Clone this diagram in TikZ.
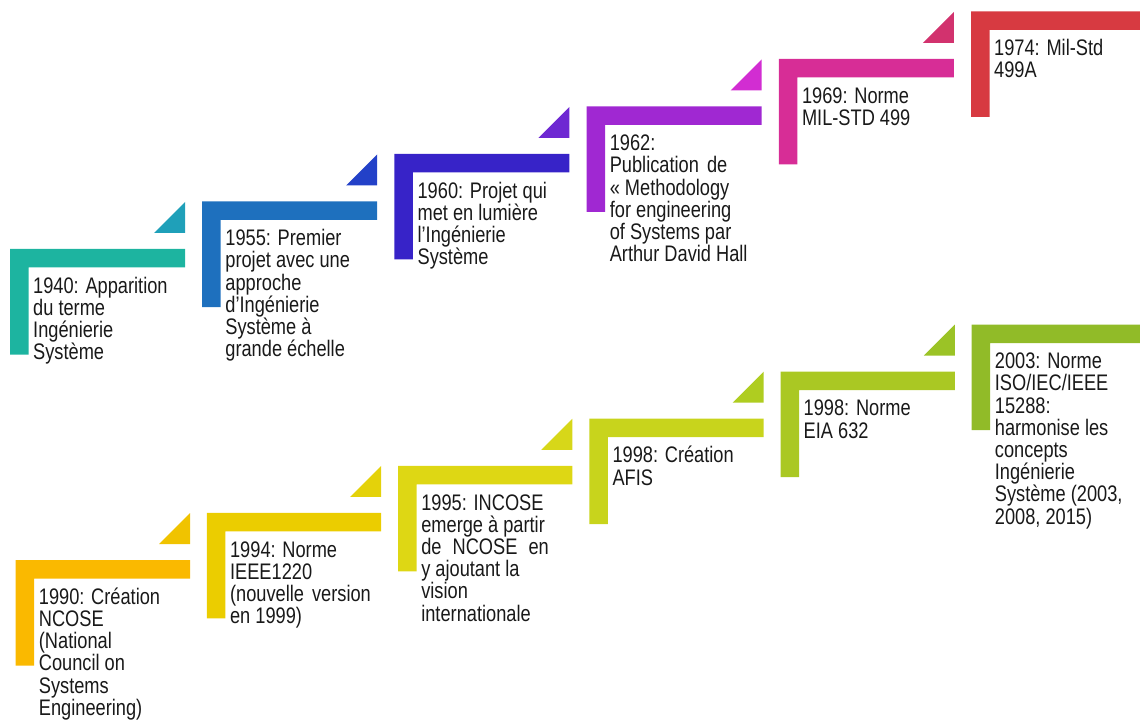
\documentclass[tikz,border=0pt]{standalone}
\usepackage{fontspec}
\newfontfamily\stepfont{Liberation Sans}[FakeStretch=0.81]

% step colours (L bar, arrow triangle)
\definecolor{tA}{RGB}{29,180,160}   \definecolor{tAt}{RGB}{31,160,185}
\definecolor{tB}{RGB}{30,112,190}   \definecolor{tBt}{RGB}{35,65,200}
\definecolor{tC}{RGB}{55,35,200}    \definecolor{tCt}{RGB}{110,40,210}
\definecolor{tD}{RGB}{160,40,210}   \definecolor{tDt}{RGB}{210,45,210}
\definecolor{tE}{RGB}{215,45,150}   \definecolor{tEt}{RGB}{210,50,110}
\definecolor{tF}{RGB}{215,58,65}
\definecolor{bA}{RGB}{250,185,0}    \definecolor{bAt}{RGB}{240,195,0}
\definecolor{bB}{RGB}{235,205,0}    \definecolor{bBt}{RGB}{228,210,10}
\definecolor{bC}{RGB}{222,215,20}   \definecolor{bCt}{RGB}{215,215,25}
\definecolor{bD}{RGB}{200,212,28}   \definecolor{bDt}{RGB}{175,205,32}
\definecolor{bE}{RGB}{170,200,35}   \definecolor{bEt}{RGB}{155,195,38}
\definecolor{bF}{RGB}{145,187,40}
\definecolor{txt}{RGB}{25,25,25}

% L-shaped step: #1 x, #2 y (top left), #3 width, #4 colour
\newcommand\stepbar[4]{%
  \fill[#4] (#1,#2) -- (#1+#3,#2) -- (#1+#3,#2+18.5) -- (#1+18.5,#2+18.5)
    -- (#1+18.5,#2+105.5) -- (#1,#2+105.5) -- cycle;}
% small rising triangle above the right end of a step
\newcommand\steparrow[4]{%
  \fill[#4] (#1+#3,#2-16) -- (#1+#3,#2-47) -- (#1+#3-31,#2-16) -- cycle;}

\tikzset{
  lbl/.style={anchor=north west, inner sep=0pt, align=left, text=txt,
    font=\stepfont\fontsize{22.5}{22.2}\selectfont},
}
\newcommand\fl{\rule{0pt}{17.5pt}}

\begin{document}
\begin{tikzpicture}[x=1pt,y=-1pt]
\useasboundingbox (0,0) rectangle (1140,727);
\clip (0,0) rectangle (1140,727);

% upper staircase
\stepbar{10}{249}{175}{tA}      \steparrow{10}{249}{175}{tAt}
\stepbar{202.2}{201.5}{175}{tB} \steparrow{202.2}{201.5}{175}{tBt}
\stepbar{394.4}{154}{175}{tC}   \steparrow{394.4}{154}{175}{tCt}
\stepbar{586.6}{106.5}{175}{tD} \steparrow{586.6}{106.5}{175}{tDt}
\stepbar{778.8}{59}{175}{tE}    \steparrow{778.8}{59}{175}{tEt}
\stepbar{971}{11.5}{175}{tF}

\node[lbl] (u1) at (10+23,249+26.5) {\fl1940: Apparition\\du terme\\Ingénierie\\Système};
\node[lbl] (u2) at (202.2+23,201.5+26.5) {\fl1955: Premier\\projet avec une\\approche\\d’Ingénierie\\Système à\\grande échelle};
\node[lbl] (u3) at (394.4+23,154+26.5) {\fl1960: Projet qui\\met en lumière\\l’Ingénierie\\Système};
\node[lbl] (u4) at (586.6+23,106.5+26.5) {\fl1962:\\Publication\hspace{3pt} de\\« Methodology\\for engineering\\of Systems par\\Arthur David Hall};
\node[lbl] (u5) at (778.8+23,59+26.5) {\fl1969: Norme\\MIL-STD 499};
\node[lbl] (u6) at (971+23,11.5+26.5) {\fl1974: Mil-Std\\499A};

% lower staircase
\stepbar{15.7}{560}{174.3}{bA}    \steparrow{15.7}{560}{174.3}{bAt}
\stepbar{206.9}{512.9}{174.3}{bB} \steparrow{206.9}{512.9}{174.3}{bBt}
\stepbar{398.1}{465.8}{174.3}{bC} \steparrow{398.1}{465.8}{174.3}{bCt}
\stepbar{589.3}{418.7}{174.3}{bD} \steparrow{589.3}{418.7}{174.3}{bDt}
\stepbar{780.5}{371.6}{174.3}{bE} \steparrow{780.5}{371.6}{174.3}{bEt}
\stepbar{971.7}{324.5}{174.3}{bF}

\node[lbl] (l1) at (15.7+23,560+26.5) {\fl1990: Création\\NCOSE\\(National\\Council on\\Systems\\Engineering)};
\node[lbl] (l2) at (206.9+23,512.9+26.5) {\fl1994: Norme\\IEEE1220\\(nouvelle\hspace{3pt} version\\en 1999)};
\node[lbl] (l3) at (398.1+23,465.8+26.5) {\fl1995: INCOSE\\emerge à partir\\de\hspace{6pt} NCOSE\hspace{6pt} en\\y ajoutant la\\vision\\internationale};
\node[lbl] (l4) at (589.3+23,418.7+26.5) {\fl1998: Création\\AFIS};
\node[lbl] (l5) at (780.5+23,371.6+26.5) {\fl1998: Norme\\EIA 632};
\node[lbl] (l6) at (971.7+23,324.5+26.5) {\fl2003: Norme\\ISO/IEC/IEEE\\15288:\\harmonise les\\concepts\\Ingénierie\\Système (2003,\\2008, 2015)};
\end{tikzpicture}
\end{document}
